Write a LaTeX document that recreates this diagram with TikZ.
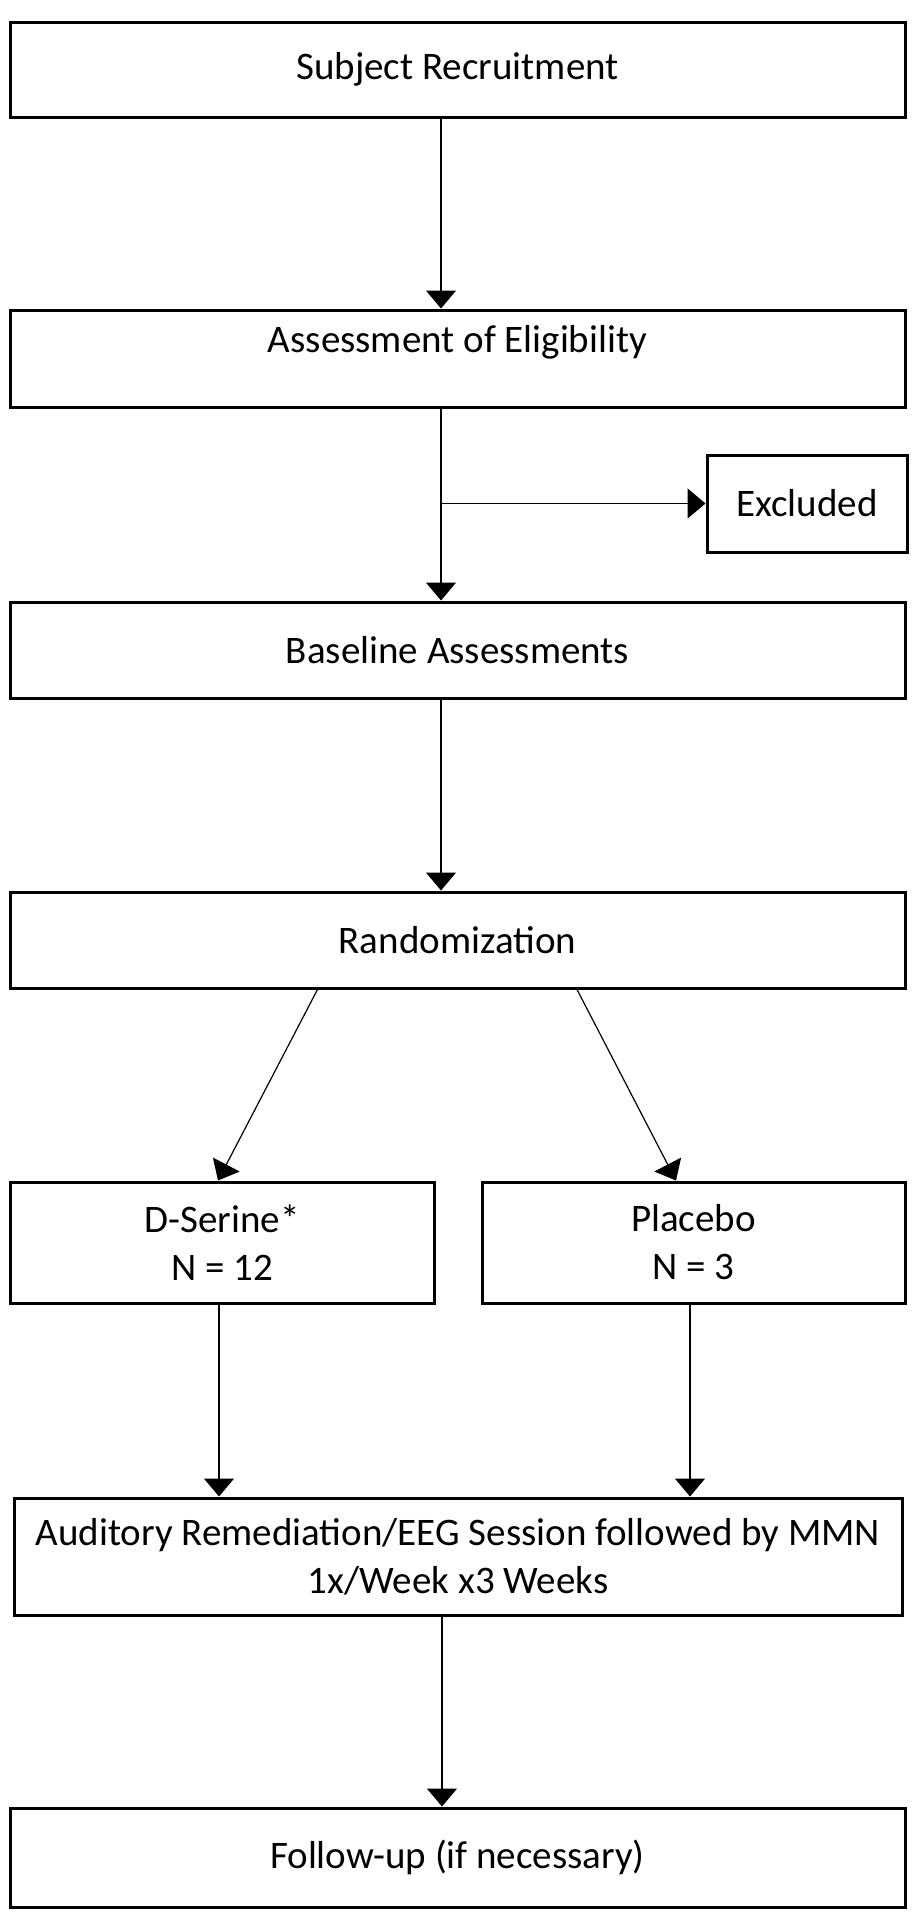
\documentclass[tikz,border=0pt]{standalone}
\usepackage{fontspec}
\setmainfont{Carlito}
\usepackage{tikz}
\usetikzlibrary{shapes.geometric, arrows.meta}
\tikzstyle{arrow} = [line width=1.2pt,-{Triangle[width=30pt,length=18pt]}]
\tikzstyle{process} = [rectangle, draw, line width=3pt, minimum width=895pt, align=center, font=\fontsize{39}{48}\selectfont]

\begin{document}
\begin{tikzpicture}[x=1pt,y=-1pt]

\useasboundingbox (0,0) rectangle (918,1920);

\node[process, minimum height=95pt] (recruit) at (457.5,69.5) {Subject Recruitment};
\node[process, minimum height=97pt, text height=25pt, text depth=37pt] (elig) at (457.5,358.5) {Assessment of Eligibility};
\node[process, minimum width=200pt, minimum height=97pt] (excl) at (807,503.5) {Excluded};
\node[process, minimum height=96pt] (base) at (457.5,650) {Baseline Assessments};
\node[process, minimum height=96pt] (rand) at (457.5,940) {Randomization};
\node[process, minimum width=424pt, minimum height=121pt] (dser) at (222,1242.5) {D-Serine*\\N = 12};
\node[process, minimum width=423pt, minimum height=121pt] (plac) at (693.5,1242.5) {Placebo\\N = 3};
\node[process, minimum width=888pt, minimum height=117pt] (audit) at (458,1556.5) {Auditory Remediation/EEG Session followed by MMN\\1x/Week x3 Weeks};
\node[process, minimum height=99pt] (follow) at (457.5,1857.5) {Follow-up (if necessary)};

\draw[arrow] ([xshift=-16.5pt]recruit.south) -- ([xshift=-16.5pt]elig.north);
\draw[arrow] ([xshift=-16.5pt]elig.south) -- ([xshift=-16.5pt]base.north);
\draw[arrow] ([xshift=-16.5pt]elig.south |- excl.west) -- (excl.west);
\draw[arrow] ([xshift=-16.5pt]base.south) -- ([xshift=-16.5pt]rand.north);

\draw[arrow] ([xshift=-140pt]rand.south) -- ([xshift=-4pt]dser.north);
\draw[arrow] ([xshift=119.5pt]rand.south) -- ([xshift=-17.5pt]plac.north);

\draw[arrow] ([xshift=-3pt]dser.south) -- ([xshift=-3pt]dser.south |- audit.north);
\draw[arrow] ([xshift=-3.5pt]plac.south) -- ([xshift=-3.5pt]plac.south |- audit.north);
\draw[arrow] ([xshift=-16pt]audit.south) -- ([xshift=-16pt]audit.south |- follow.north);

\end{tikzpicture}
\end{document}
